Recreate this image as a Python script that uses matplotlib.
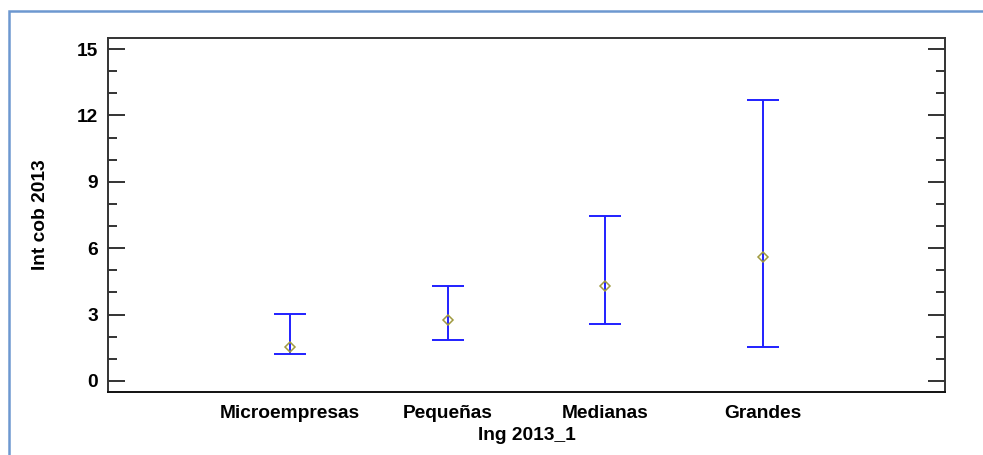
import matplotlib
matplotlib.use("Agg")
import matplotlib.pyplot as plt
from matplotlib.patches import Rectangle
from matplotlib.ticker import MultipleLocator

categories = ["Microempresas", "Pequeñas", "Medianas", "Grandes"]
means = [1.55, 2.77, 4.27, 5.61]
lower = [1.23, 1.86, 2.58, 1.55]
upper = [3.02, 4.28, 7.47, 12.70]

plt.rcParams['font.family'] = ['Liberation Sans', 'DejaVu Sans']

fig = plt.figure(figsize=(9.83, 4.55), dpi=100)
ax = fig.add_axes([108/983, 1 - 392/455, (945-108)/983, (392-38)/455])

# outer light-blue frame
fig.patches.append(Rectangle((8.5/983, -0.1), 1.2, 444.5/455 + 0.1, transform=fig.transFigure,
                             fill=False, edgecolor='#6d98d0', linewidth=1.8))

x = list(range(1, len(categories) + 1))
yerr = [[m - l for m, l in zip(means, lower)], [u - m for m, u in zip(means, upper)]]
ax.errorbar(x, means, yerr=yerr, fmt='none', ecolor='#2020ff', elinewidth=1.4,
            capsize=11.5, capthick=1.4)
ax.plot(x, means, linestyle='none', marker='D', markersize=5.5, markerfacecolor='none',
        markeredgecolor='#a09a40', markeredgewidth=1.1)

ax.set_xlim(-0.154, 5.154)
ax.set_ylim(-0.5, 15.5)
ax.set_xticks(x)
ax.set_xticklabels(categories, fontsize=13.8, fontweight='bold')
ax.tick_params(axis='x', length=0, pad=9)
ax.yaxis.set_major_locator(MultipleLocator(3))
ax.yaxis.set_minor_locator(MultipleLocator(1))
ax.tick_params(axis='y', which='major', direction='in', length=12, width=1.4,
               left=True, right=True, labelsize=13.8, pad=7, color='#333333')
ax.tick_params(axis='y', which='minor', direction='in', length=6.5, width=1.4,
               left=True, right=True, color='#333333')
for lab in ax.get_yticklabels():
    lab.set_fontweight('bold')
for s in ax.spines.values():
    s.set_linewidth(1.4)
    s.set_color('#333333')
ax.spines['bottom'].set_color('#111111')

ax.set_ylabel("Int cob 2013", fontsize=13.8, fontweight='bold', labelpad=20)
ax.set_xlabel("Ing 2013_1", fontsize=13.8, fontweight='bold', labelpad=4)

fig.savefig("out.png", dpi=100)
